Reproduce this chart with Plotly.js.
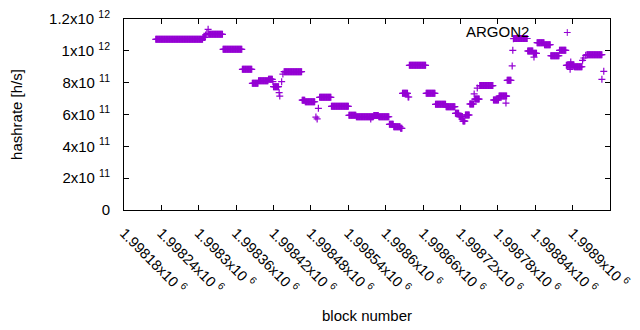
<!DOCTYPE html>
<html>
<head>
<meta charset="utf-8">
<script src="https://cdn.plot.ly/plotly-3.0.1.min.js"></script>
<style>html,body{margin:0;padding:0;background:#fff;}#chart{width:640px;height:330px;}</style>
</head>
<body>
<div id="chart"></div>
<script>
// Runs of consecutive blocks that share one hashrate value
const runStart = [1998231,1998307,1998316,1998339,1998370,1998386,1998396,1998412,1998420,1998437,
  1998466,1998471,1998494,1998513,1998541,1998553,1998581,1998589,1998606,1998613,
  1998624,1998627,1998636,1998638,1998665,1998680,1998697,1998712,1998718,1998724,
  1998728,1998735,1998743,1998751,1998773,1998782,1998795,1998806,1998828,1998837,
  1998843,1998855,1998865,1998879,1998890,1998903,1998923];
const runEnd = [1998306,1998310,1998338,1998369,1998385,1998395,1998411,1998418,1998428,1998465,
  1998470,1998486,1998512,1998540,1998552,1998580,1998588,1998605,1998612,1998623,
  1998626,1998635,1998637,1998664,1998679,1998696,1998711,1998717,1998723,1998727,
  1998734,1998741,1998750,1998772,1998781,1998794,1998801,1998827,1998836,1998842,
  1998854,1998864,1998878,1998889,1998902,1998915,1998947];
const runValue = [1.072e12,1.084e12,1.104e12,1.0096e12,8.84e11,7.96e11,8.12e11,8.21e11,7.75e11,8.69e11,
  6.90e11,6.80e11,7.08e11,6.515e11,5.95e11,5.86e11,5.94e11,5.86e11,5.38e11,5.23e11,
  5.13e11,7.33e11,7.10e11,9.09e11,7.33e11,6.64e11,6.49e11,6.075e11,5.87e11,5.59e11,
  5.97e11,6.66e11,6.97e11,7.82e11,6.91e11,7.16e11,8.15e11,1.0775e12,9.99e11,9.845e11,
  1.051e12,1.0385e12,9.69e11,1.003e12,9.09e11,9.0e11,9.757e11];
// Single blocks off the runs
const extraBlock = [1998311,1998313,1998315,1998419,1998429,1998430,1998433,1998435,1998488,1998490,
  1998492,1998576,1998742,1998747,1998793,1998803,1998804,1998805,1998838,1998896,
  1998897,1998916,1998918,1998921,1998947,1998950];
const extraValue = [1.0995e12,1.110e12,1.135e12,8.06e11,7.37e11,7.16e11,8.06e11,8.54e11,5.84e11,5.72e11,
  6.39e11,5.72e11,7.29e11,7.66e11,6.72e11,9.05e11,1.003e12,1.076e12,9.61e11,8.84e11,
  9.30e11,9.405e11,9.55e11,9.72e11,8.21e11,8.71e11];

const xTickVals = [1998180,1998240,1998300,1998360,1998420,1998480,1998540,1998600,1998660,1998720,1998780,1998840,1998900,1998960];
const xTickText = ["1.99818","1.99824","1.9983","1.99836","1.99842","1.99848","1.99854","1.9986","1.99866","1.99872","1.99878","1.99884","1.9989","1.99896"];
const yTickVals = [0,2e11,4e11,6e11,8e11,1e12,1.2e12];
const yTickMantissa = ["0","2","4","6","8","1","1.2"];
const yTickExponent = ["","11","11","11","11","12","12"];
const seriesName = "ARGON2";

const xs = [], ys = [];
for (let i = 0; i < runStart.length; i++) {
  for (let b = runStart[i]; b <= runEnd[i]; b++) { xs.push(b); ys.push(runValue[i]); }
}
for (let i = 0; i < extraBlock.length; i++) { xs.push(extraBlock[i]); ys.push(extraValue[i]); }

const purple = '#9400d3';
const font = {family: 'Liberation Sans, Arial, sans-serif', size: 15, color: '#000'};
const yTickText = yTickMantissa.map((m, i) => yTickExponent[i] ? m + 'x10 <sup>' + yTickExponent[i] + '</sup>' : m);

const trace = {
  type: 'scatter', mode: 'markers', x: xs, y: ys, name: seriesName,
  marker: {symbol: 'cross-thin', size: 5, color: purple, line: {width: 1.2, color: purple}},
  hoverinfo: 'skip'
};

// legend sample (gnuplot style: text, then sample)
const sx = 0.9121, sy = 0.9293, dx = 0.0070, dy = 0.0178;
const layout = {
  width: 640, height: 330,
  margin: {l: 124, r: 30, t: 19, b: 120, pad: 0},
  paper_bgcolor: '#fff', plot_bgcolor: '#fff',
  showlegend: false,
  font: font,
  xaxis: {
    range: [1998180, 1998960], tickmode: 'array', tickvals: xTickVals,
    ticktext: xTickText.map(t => t + 'x10 <sup>6</sup>'),
    tickangle: 45, ticks: 'inside', ticklen: 5, tickcolor: '#000', mirror: 'ticks',
    showline: true, linecolor: '#000', linewidth: 1, showgrid: false, zeroline: false,
    ticklabelstandoff: 8,
    tickfont: {family: font.family, size: 14.5, color: '#000'},
    title: {text: 'block number', font: font, standoff: 14},
    automargin: false
  },
  yaxis: {
    range: [0, 1.2e12], tickmode: 'array', tickvals: yTickVals, ticktext: yTickText,
    ticks: 'inside', ticklen: 5, tickcolor: '#000', mirror: 'ticks',
    showline: true, linecolor: '#000', linewidth: 1, showgrid: false, zeroline: false,
    ticklabelstandoff: 10,
    tickfont: {family: font.family, size: 15, color: '#000'},
    title: {text: 'hashrate [h/s]', font: font, standoff: 22},
    automargin: false
  },
  annotations: [{
    xref: 'paper', yref: 'paper', x: 0.8374, y: 0.9346, xanchor: 'right', yanchor: 'middle',
    text: seriesName, showarrow: false, font: font
  }],
  shapes: [{
    type: 'path', xref: 'paper', yref: 'paper',
    path: `M ${sx-dx},${sy} L ${sx+dx},${sy} M ${sx},${sy-dy} L ${sx},${sy+dy}`,
    line: {color: purple, width: 1}
  }]
};
Plotly.newPlot('chart', [trace], layout, {staticPlot: true, displayModeBar: false});
</script>
</body>
</html>
